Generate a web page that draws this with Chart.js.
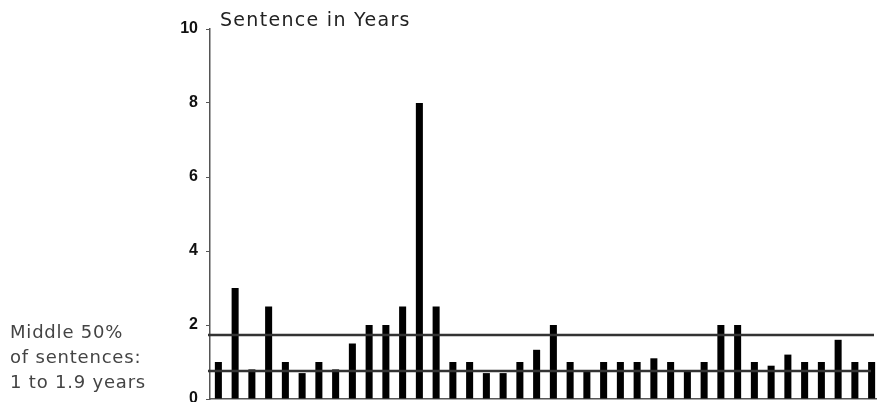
<!DOCTYPE html>
<html>
<head>
<meta charset="utf-8">
<script src="https://cdn.jsdelivr.net/npm/chart.js@4"></script>
<style>
  html, body { margin: 0; padding: 0; background: #fff; overflow: hidden; }
  #wrap { position: relative; width: 880px; height: 402px; }
  #chart { display: block; }
  #title {
    position: absolute; left: 220px; top: 8px;
    font: 19px "DejaVu Sans", sans-serif; letter-spacing: 1.3px; color: #222;
  }
  #note {
    position: absolute; left: 10px; top: 319px;
    font: 18px "DejaVu Sans", sans-serif; letter-spacing: 0.8px; line-height: 25px; color: #444;
  }
</style>
</head>
<body>
<div id="wrap">
  <canvas id="chart" width="880" height="402"></canvas>
  <div id="title">Sentence in Years</div>
  <div id="note">Middle 50%<br>of sentences:<br>1 to 1.9 years</div>
</div>
<script>
// one bar per case, sentence in years
const sentences = [
  1, 3, 0.8, 2.5, 1, 0.7, 1, 0.8, 1.5, 2, 2, 2.5, 8,
  2.5, 1, 1, 0.7, 0.7, 1, 1.33, 2, 1, 0.75, 1, 1, 1,
  1.1, 1, 0.75, 1, 2, 2, 1, 0.9, 1.2, 1, 1, 1.6, 1, 1
];
const cases = sentences.map((_, i) => "Case " + (i + 1));
const yTicks = [0, 2, 4, 6, 8, 10];
// the two lines marking the middle 50% band, as drawn
const bandLines = [0.76, 1.73];

const bandPlugin = {
  id: "band",
  afterDatasetsDraw(chart) {
    const { ctx, chartArea, scales } = chart;
    ctx.save();
    ctx.strokeStyle = "#333";
    ctx.lineWidth = 2.5;
    bandLines.forEach((v, i) => {
      const y = scales.y.getPixelForValue(v);
      ctx.beginPath();
      ctx.moveTo(chartArea.left - 2, y);
      ctx.lineTo(chartArea.right - (i === 0 ? 9 : 6), y);
      ctx.stroke();
    });
    ctx.restore();
  }
};

new Chart(document.getElementById("chart"), {
  type: "bar",
  data: {
    labels: cases,
    datasets: [{
      data: sentences,
      backgroundColor: "#000",
      barPercentage: 0.42,
      categoryPercentage: 1
    }]
  },
  options: {
    responsive: false,
    animation: false,
    layout: { padding: { top: 29, bottom: 3, left: 0, right: 0 } },
    plugins: { legend: { display: false }, tooltip: { enabled: false } },
    scales: {
      x: {
        grid: { display: false },
        ticks: { display: false },
        border: { display: true, color: "#555", width: 1.5 },
        afterFit(scale) { scale.height = 0; }
      },
      y: {
        min: 0, max: 10,
        afterBuildTicks(scale) { scale.ticks = yTicks.map(v => ({ value: v })); },
        grid: { drawOnChartArea: false, drawTicks: true, tickLength: 4, color: "#555" },
        border: { display: true, color: "#555", width: 1.5 },
        ticks: {
          padding: 8,
          color: "#111",
          font: { family: "Liberation Sans", size: 16, weight: "bold" }
        },
        afterFit(scale) {
          scale.width = 210;
          scale.paddingTop = 0;
          scale.paddingBottom = 0;
        }
      }
    }
  },
  plugins: [bandPlugin]
});
</script>
</body>
</html>
